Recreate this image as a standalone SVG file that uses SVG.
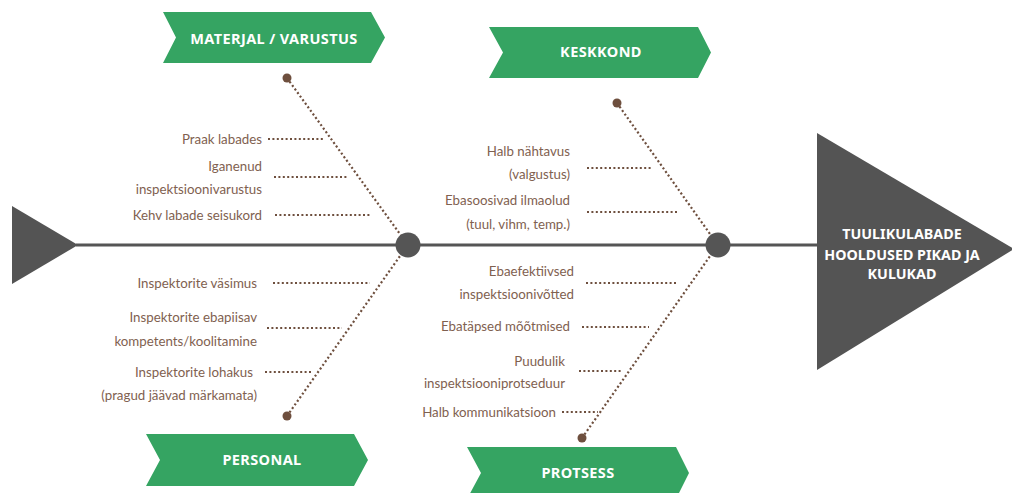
<svg xmlns="http://www.w3.org/2000/svg" width="1012" height="493" viewBox="0 0 1012 493">
  <style>
    .banner { fill: #35a462; }
    .banner-text { fill: #ffffff; font-family: "Noto Sans", "DejaVu Sans", sans-serif; font-weight: bold; font-size: 14.5px; letter-spacing: 0.4px; text-anchor: middle; dominant-baseline: central; }
    .head-text { fill: #ffffff; font-family: "Noto Sans", "DejaVu Sans", sans-serif; font-weight: bold; font-size: 14.3px; text-anchor: middle; dominant-baseline: central; }
    .cause { fill: #7f6150; font-family: Lato, "Noto Sans", sans-serif; font-size: 13.3px; text-anchor: end; dominant-baseline: central; }
    .spine { stroke: #555555; stroke-width: 3; fill: none; }
    .bone { stroke: #6e4f3e; stroke-width: 2.2; stroke-dasharray: 2 2.4; fill: none; }
    .sub { stroke: #6e4f3e; stroke-width: 2.2; stroke-dasharray: 2 2.4; fill: none; }
    .joint { fill: #555555; }
    .end { fill: #6e4f3e; }
    .dark { fill: #545454; }
  </style>

  <!-- spine, tail and head -->
  <g id="spine">
    <polygon class="dark" points="12,206 78,245 12,284"/>
    <line class="spine" x1="76" y1="245" x2="820" y2="245"/>
  </g>

  <g id="head">
    <polygon class="dark" points="817,133 1014,249 817,370"/>
    <text class="head-text" x="902" y="233">TUULIKULABADE</text>
    <text class="head-text" x="902" y="254">HOOLDUSED PIKAD JA</text>
    <text class="head-text" x="902" y="273">KULUKAD</text>
  </g>

  <!-- category ribbons -->
  <g id="cat-materjal">
    <polygon class="banner" points="163,12 371,12 385,37.5 371,63 163,63 176,37.5"/>
    <text class="banner-text" x="274" y="37.5">MATERJAL / VARUSTUS</text>
  </g>
  <g id="cat-keskkond">
    <polygon class="banner" points="489,27 698,27 711,52.5 698,78 489,78 503,52.5"/>
    <text class="banner-text" x="601" y="51">KESKKOND</text>
  </g>
  <g id="cat-personal">
    <polygon class="banner" points="146,434 354,434 368,460 354,486 146,486 160,460"/>
    <text class="banner-text" x="262" y="459">PERSONAL</text>
  </g>
  <g id="cat-protsess">
    <polygon class="banner" points="467,447 676,447 689,473 676,499 467,499 481,473"/>
    <text class="banner-text" x="578" y="472">PROTSESS</text>
  </g>

  <!-- connectors: main bones and cause lines -->
  <g id="connectors">
    <line class="bone" x1="287" y1="78" x2="405" y2="241"/>
    <line class="bone" x1="617" y1="103" x2="715" y2="241"/>
    <line class="bone" x1="287" y1="416" x2="405" y2="249"/>
    <line class="bone" x1="582" y1="438" x2="715" y2="249"/>

    <line class="sub" x1="268" y1="139" x2="325" y2="139"/>
    <line class="sub" x1="274" y1="177" x2="348" y2="177"/>
    <line class="sub" x1="275" y1="215" x2="371" y2="215"/>

    <line class="sub" x1="587" y1="168" x2="653" y2="168"/>
    <line class="sub" x1="587" y1="212" x2="677" y2="212"/>

    <line class="sub" x1="273" y1="283" x2="370" y2="283"/>
    <line class="sub" x1="267" y1="328" x2="342" y2="328"/>
    <line class="sub" x1="265" y1="372" x2="311" y2="372"/>

    <line class="sub" x1="586" y1="283" x2="676" y2="283"/>
    <line class="sub" x1="582" y1="327" x2="649" y2="327"/>
    <line class="sub" x1="579" y1="371" x2="623" y2="371"/>
    <line class="sub" x1="562" y1="412" x2="598" y2="412"/>
  </g>

  <!-- bone ends and joints -->
  <g id="joints">
    <circle class="end" cx="287" cy="78" r="4.5"/>
    <circle class="end" cx="617" cy="103" r="4.5"/>
    <circle class="end" cx="287" cy="416" r="4.5"/>
    <circle class="end" cx="582" cy="438" r="4.5"/>
    <circle class="joint" cx="408" cy="245" r="12.5"/>
    <circle class="joint" cx="718" cy="245" r="12.5"/>
  </g>

  <!-- cause labels -->
  <g id="causes-materjal">
    <text class="cause" x="262" y="139">Praak labades</text>
    <text class="cause" x="262" y="166">Iganenud</text>
    <text class="cause" x="262" y="189">inspektsioonivarustus</text>
    <text class="cause" x="262" y="215">Kehv labade seisukord</text>
  </g>
  <g id="causes-keskkond">
    <text class="cause" x="570" y="151">Halb nähtavus</text>
    <text class="cause" x="570" y="174">(valgustus)</text>
    <text class="cause" x="570" y="200">Ebasoosivad ilmaolud</text>
    <text class="cause" x="570" y="224">(tuul, vihm, temp.)</text>
  </g>
  <g id="causes-personal">
    <text class="cause" x="257" y="283">Inspektorite väsimus</text>
    <text class="cause" x="257" y="317">Inspektorite ebapiisav</text>
    <text class="cause" x="257" y="341">kompetents/koolitamine</text>
    <text class="cause" x="253" y="372">Inspektorite lohakus</text>
    <text class="cause" x="257" y="395">(pragud jäävad märkamata)</text>
  </g>
  <g id="causes-protsess">
    <text class="cause" x="574" y="271">Ebaefektiivsed</text>
    <text class="cause" x="574" y="294">inspektsioonivõtted</text>
    <text class="cause" x="570" y="326">Ebatäpsed mõõtmised</text>
    <text class="cause" x="565" y="361">Puudulik</text>
    <text class="cause" x="565" y="383">inspektsiooniprotseduur</text>
    <text class="cause" x="556" y="412">Halb kommunikatsioon</text>
  </g>
</svg>
